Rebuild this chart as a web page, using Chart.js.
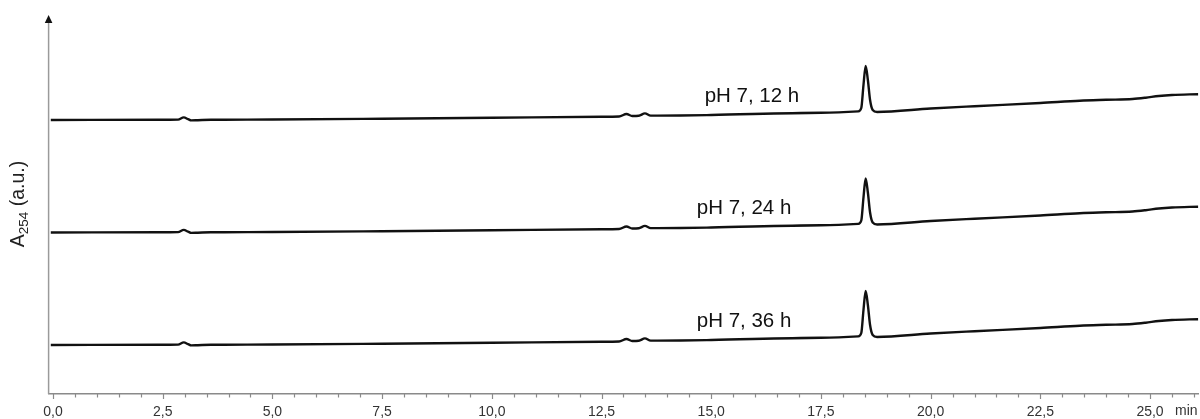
<!DOCTYPE html>
<html><head><meta charset="utf-8">
<script src="https://cdn.jsdelivr.net/npm/chart.js@4"></script>
<style>html,body{margin:0;padding:0;background:#fff}#wrap{width:1200px;height:419px}</style>
</head><body><div id="wrap"><canvas id="c" width="1200" height="419"></canvas></div>
<script>
const times = [-0.05, 2.4, 2.85, 2.98, 3.08, 3.15, 3.3, 3.6, 3.9, 5, 7.5, 10, 12.5, 12.9, 13.07, 13.2, 13.35, 13.49, 13.62, 14.3, 15, 17.5, 18.35, 18.42, 18.47, 18.52, 18.57, 18.62, 18.68, 18.78, 20, 21, 22.5, 23.4, 24.0, 24.6, 24.9, 25.2, 25.5, 26.1];
const trace12h = [274, 274.2, 274.4, 276.6, 274.8, 273.6, 273.8, 274.2, 274.3, 274.5, 275.3, 276.2, 277.3, 277.5, 280, 278, 278.3, 280.6, 278.4, 278.5, 279, 281.3, 282.6, 286, 309, 328, 314, 294, 284, 282, 285.5, 287.8, 291, 293.3, 294.2, 295, 296.3, 298, 299, 299.8];
const trace24h = [161.5, 161.7, 161.9, 164.1, 162.3, 161.1, 161.3, 161.7, 161.8, 162, 162.8, 163.7, 164.8, 165, 167.5, 165.5, 165.8, 168.1, 165.9, 166, 166.5, 168.8, 170.1, 173.5, 196.5, 215.5, 201.5, 181.5, 171.5, 169.5, 173, 175.3, 178.5, 180.8, 181.7, 182.5, 183.8, 185.5, 186.5, 187.3];
const trace36h = [49, 49.2, 49.4, 51.6, 49.8, 48.6, 48.8, 49.2, 49.3, 49.5, 50.3, 51.2, 52.3, 52.5, 55, 53, 53.3, 55.6, 53.4, 53.5, 54, 56.3, 57.6, 61, 84, 103, 89, 69, 59, 57, 60.5, 62.8, 66, 68.3, 69.2, 70, 71.3, 73, 74, 74.8];
const traceLabels = ['pH 7, 12 h', 'pH 7, 24 h', 'pH 7, 36 h'];
const labelX = [14.85, 14.67, 14.67];
const labelY = [292.3, 180, 67.5];
const majorTicks = [0, 2.5, 5, 7.5, 10, 12.5, 15, 17.5, 20, 22.5, 25];
const majorTickLabels = ['0,0', '2,5', '5,0', '7,5', '10,0', '12,5', '15,0', '17,5', '20,0', '22,5', '25,0'];
const minorTicks = [];
for (let i = 0; i <= 52; i++) minorTicks.push(i * 0.5);
const xUnit = 'min';
const yTitleMain = 'A', yTitleSub = '254', yTitleRest = ' (a.u.)';

const toPts = arr => arr.map((v, i) => ({x: times[i], y: v}));
const ds = (arr) => ({data: toPts(arr), borderColor: '#111', borderWidth: 2.4, pointRadius: 0, fill: false, cubicInterpolationMode: 'monotone'});
const FAM = '"Liberation Sans", Arial, sans-serif';

const deco = {
  id: 'deco',
  afterDraw(chart) {
    const {ctx, chartArea: ca, scales: {x, y}} = chart;
    ctx.save();
    ctx.strokeStyle = '#8a8a8a'; ctx.lineWidth = 1.2;
    minorTicks.forEach(t => {
      const px = Math.round(x.getPixelForValue(t)) + 0.5;
      const major = majorTicks.includes(t);
      ctx.beginPath(); ctx.moveTo(px, ca.bottom); ctx.lineTo(px, ca.bottom + (major ? 5 : 3.5)); ctx.stroke();
    });
    const ax = ca.left;
    ctx.strokeStyle = '#9a9a9a'; ctx.lineWidth = 1.5;
    ctx.beginPath(); ctx.moveTo(ax, ca.bottom); ctx.lineTo(ax, ca.top + 6); ctx.stroke();
    ctx.fillStyle = '#111';
    ctx.beginPath(); ctx.moveTo(ax, ca.top); ctx.lineTo(ax - 3.8, ca.top + 8); ctx.lineTo(ax + 3.8, ca.top + 8); ctx.closePath(); ctx.fill();
    ctx.fillStyle = '#333'; ctx.font = '14px ' + FAM;
    ctx.textAlign = 'left'; ctx.textBaseline = 'middle';
    ctx.fillText(xUnit, 1175, 411);
    ctx.fillStyle = '#111'; ctx.font = '20.5px ' + FAM;
    ctx.textBaseline = 'alphabetic';
    traceLabels.forEach((s, i) => ctx.fillText(s, x.getPixelForValue(labelX[i]), y.getPixelForValue(labelY[i])));
    ctx.translate(24, 204); ctx.rotate(-Math.PI / 2);
    const f1 = '19.5px ' + FAM, f2 = '13.5px ' + FAM;
    ctx.font = f1; const w1 = ctx.measureText(yTitleMain).width, w3 = ctx.measureText(yTitleRest).width;
    ctx.font = f2; const w2 = ctx.measureText(yTitleSub).width;
    let sx = -(w1 + w2 + w3) / 2;
    ctx.fillStyle = '#222';
    ctx.font = f1; ctx.fillText(yTitleMain, sx, 0); sx += w1;
    ctx.font = f2; ctx.fillText(yTitleSub, sx, 4); sx += w2;
    ctx.font = f1; ctx.fillText(yTitleRest, sx, 0);
    ctx.restore();
  }
};

new Chart(document.getElementById('c'), {
  type: 'line',
  data: {datasets: [ds(trace12h), ds(trace24h), ds(trace36h)]},
  options: {
    responsive: false, animation: false, devicePixelRatio: 1,
    layout: {padding: {left: 48.6, right: 1.7, top: 15, bottom: 0}},
    plugins: {legend: {display: false}, tooltip: {enabled: false}},
    scales: {
      x: {
        type: 'linear', min: -0.1, max: 26.1,
        afterBuildTicks: s => { s.ticks = majorTicks.map(v => ({value: v})); },
        afterFit: s => { s.height = 25; },
        grid: {display: false, drawTicks: false},
        border: {display: true, color: '#8a8a8a', width: 1.5},
        ticks: {autoSkip: false, maxRotation: 0, padding: 9.5, color: '#333',
          font: {family: FAM, size: 14},
          callback: (v) => { const i = majorTicks.indexOf(v); return i >= 0 ? majorTickLabels[i] : ''; }}
      },
      y: {type: 'linear', min: 0, max: 379, display: false}
    }
  },
  plugins: [deco]
});
</script></body></html>
